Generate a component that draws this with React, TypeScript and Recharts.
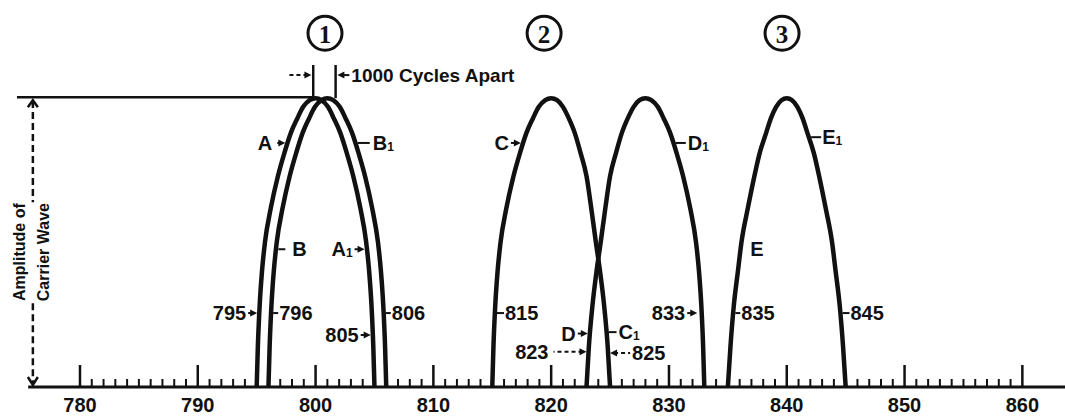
import React from "react";
import {
  LineChart,
  Line,
  XAxis,
  YAxis,
  ReferenceLine,
  ReferenceDot,
} from "recharts";

// amplitude levels shared by every curve (read bottom -> peak -> bottom)
const ampLevels = [
  0, 0.14, 0.28, 0.4, 0.5, 0.62, 0.73, 0.81, 0.88, 0.93, 0.97, 0.993, 1,
  0.993, 0.97, 0.93, 0.88, 0.81, 0.73, 0.62, 0.5, 0.4, 0.28, 0.14, 0,
];

// frequency (kc) of each curve at those levels
const freqA = [
  795, 795.1, 795.25, 795.45, 795.7, 796.2, 796.8, 797.35, 797.9, 798.45,
  798.95, 799.5, 800, 800.5, 801.05, 801.55, 802.1, 802.65, 803.2, 803.8,
  804.3, 804.55, 804.75, 804.9, 805,
];
const freqB = [
  796, 796.1, 796.25, 796.45, 796.7, 797.2, 797.8, 798.35, 798.9, 799.45,
  799.95, 800.5, 801, 801.5, 802.05, 802.55, 803.1, 803.65, 804.2, 804.8,
  805.3, 805.55, 805.75, 805.9, 806,
];
const freqC = [
  815, 815.1, 815.25, 815.45, 815.7, 816.2, 816.8, 817.35, 817.9, 818.45,
  818.95, 819.5, 820, 820.5, 821, 821.5, 822, 822.5, 823, 823.4, 823.8,
  824.15, 824.5, 824.8, 825,
];
const freqD = [
  823, 823.2, 823.5, 823.85, 824.2, 824.6, 825, 825.5, 826, 826.5, 827,
  827.5, 828, 828.5, 829.05, 829.55, 830.1, 830.65, 831.2, 831.8, 832.3,
  832.55, 832.75, 832.9, 833,
];
const freqE = [
  835, 835.22, 835.5, 835.85, 836.15, 836.7, 837.25, 837.7, 838.25, 838.65,
  839.1, 839.55, 840, 840.45, 840.9, 841.35, 841.75, 842.3, 842.75, 843.3,
  843.85, 844.15, 844.5, 844.78, 845,
];

const majorTicks = [780, 790, 800, 810, 820, 830, 840, 850, 860];
const minorStep = 1;

const circledNums = ["1", "2", "3"];
const circledFreqs = [800.8, 819.4, 839.6];

const ink = "#111";
const font = "'Liberation Sans', Arial, sans-serif";

const curves = [freqA, freqB, freqC, freqD, freqE].map((fs) =>
  fs.map((f, i) => ({ f, a: ampLevels[i] }))
);

const allTicks: number[] = [];
for (let v = majorTicks[0]; v <= majorTicks[majorTicks.length - 1]; v += minorStep)
  allTicks.push(v);

type Note = {
  f: number;
  a: number;
  text?: string;
  sub?: string;
  side: "l" | "r";
  len: number;
  gap: number;
  head?: boolean;
  dash?: boolean;
  size?: number;
};

// labels with their little arrows, anchored where the arrow touches a curve
const notes: Note[] = [
  { f: 797.43, a: 0.845, text: "A", side: "l", len: 11, gap: 2, head: true, dash: true },
  { f: 803.58, a: 0.845, text: "B", sub: "1", side: "r", len: 12, gap: 3 },
  { f: 796.84, a: 0.477, text: "B", side: "r", len: 7, gap: 7 },
  { f: 804.16, a: 0.477, text: "A", sub: "1", side: "l", len: 10, gap: 2, head: true },
  { f: 795.04, a: 0.256, text: "795", side: "l", len: 9, gap: 2, head: true },
  { f: 796.4, a: 0.256, text: "796", side: "r", len: 5, gap: 1 },
  { f: 805.96, a: 0.256, text: "806", side: "r", len: 5, gap: 1 },
  { f: 804.68, a: 0.18, text: "805", side: "l", len: 10, gap: 2, head: true },
  { f: 817.43, a: 0.845, text: "C", side: "l", len: 10, gap: 2, head: true },
  { f: 830.58, a: 0.845, text: "D", sub: "1", side: "r", len: 10, gap: 2 },
  { f: 815.4, a: 0.256, text: "815", side: "r", len: 7, gap: 1 },
  { f: 823.11, a: 0.185, text: "D", side: "l", len: 10, gap: 2, head: true },
  { f: 824.87, a: 0.19, text: "C", sub: "1", side: "r", len: 8, gap: 2 },
  { f: 823.0, a: 0.122, text: "823", side: "l", len: 33, gap: 5, head: true, dash: true },
  { f: 825.0, a: 0.118, text: "825", side: "r", len: 20, gap: 2, head: true, dash: true },
  { f: 832.4, a: 0.256, text: "833", side: "l", len: 10, gap: 2, head: true },
  { f: 835.63, a: 0.256, text: "835", side: "r", len: 5, gap: 1 },
  { f: 844.73, a: 0.256, text: "845", side: "r", len: 7, gap: 1 },
  { f: 842.07, a: 0.865, text: "E", sub: "1", side: "r", len: 10, gap: 1 },
  { f: 836.9, a: 0.477, text: "E", side: "r", len: 0, gap: 0 },
  // "1000 Cycles Apart" bracket arrows
  { f: 799.65, a: 1.08, side: "l", len: 24, gap: 0, head: true, dash: true },
  { f: 801.85, a: 1.08, text: "1000 Cycles Apart", side: "r", len: 12, gap: 2, head: true, size: 19 },
];

function NoteMark({ cx, cy, n }: { cx: number; cy: number; n: Note }) {
  const dir = n.side === "l" ? -1 : 1;
  const x1 = cx + dir * n.len;
  const tx = x1 + dir * n.gap;
  return (
    <g>
      {n.len > 0 && (
        <line
          x1={n.head ? cx + dir * 4 : cx}
          y1={cy}
          x2={x1}
          y2={cy}
          stroke={ink}
          strokeWidth={2}
          strokeDasharray={n.dash ? "4 3" : undefined}
        />
      )}
      {n.head && (
        <path
          d={`M${cx},${cy} L${cx + dir * 7},${cy - 3.5} L${cx + dir * 7},${cy + 3.5} Z`}
          fill={ink}
        />
      )}
      {n.text && (
        <text
          x={tx}
          y={cy}
          textAnchor={dir < 0 ? "end" : "start"}
          dominantBaseline="central"
          fontFamily={font}
          fontWeight="bold"
          fontSize={n.size ?? 20}
          fill={ink}
        >
          {n.text}
          {n.sub && (
            <tspan fontSize={12} dy={4}>
              {n.sub}
            </tspan>
          )}
        </text>
      )}
    </g>
  );
}

function AxisTick(props: any) {
  const { x, y, payload } = props;
  const v = payload.value as number;
  const major = majorTicks.includes(v);
  return (
    <g>
      <line
        x1={x}
        x2={x}
        y1={y}
        y2={y - (major ? 22 : 8)}
        stroke={ink}
        strokeWidth={major ? 2.5 : 2}
      />
      {major && (
        <text
          x={x}
          y={y + 25}
          textAnchor="middle"
          fontFamily={font}
          fontWeight="bold"
          fontSize={20}
          fill={ink}
        >
          {v}
        </text>
      )}
    </g>
  );
}

export default function App() {
  return (
    <div style={{ position: "absolute", left: 0, top: 0, background: "#fff" }}>
      <LineChart
        width={1065}
        height={417}
        margin={{ top: 0, right: 0, bottom: 0, left: 0 }}
      >
        <XAxis
          type="number"
          dataKey="f"
          domain={[773.21, 863.62]}
          allowDataOverflow
          ticks={allTicks}
          interval={0}
          tick={<AxisTick />}
          tickLine={false}
          axisLine={false}
          tickSize={0}
          tickMargin={0}
          height={30}
        />
        <YAxis type="number" dataKey="a" domain={[0, 1.34]} hide allowDataOverflow />

        {/* base line and amplitude reference */}
        <ReferenceLine
          segment={[{ x: 775.6, y: 0 }, { x: 863.62, y: 0 }]}
          stroke={ink}
          strokeWidth={3}
        />
        <ReferenceLine
          segment={[{ x: 774.65, y: 1.003 }, { x: 799.7, y: 1.003 }]}
          stroke={ink}
          strokeWidth={2.5}
        />
        <ReferenceLine
          segment={[{ x: 776.0, y: 0.99 }, { x: 776.0, y: 0.64 }]}
          stroke={ink}
          strokeWidth={2.5}
          strokeDasharray="7 4"
        />
        <ReferenceLine
          segment={[{ x: 776.0, y: 0.29 }, { x: 776.0, y: 0.01 }]}
          stroke={ink}
          strokeWidth={2.5}
          strokeDasharray="7 4"
        />
        <ReferenceDot
          x={776.0}
          y={1.0}
          r={0}
          ifOverflow="visible"
          shape={(p: any) => (
            <polyline
              points={`${p.cx - 5},${p.cy + 9} ${p.cx},${p.cy + 2} ${p.cx + 5},${p.cy + 9}`}
              fill="none"
              stroke={ink}
              strokeWidth={2.5}
            />
          )}
        />
        <ReferenceDot
          x={776.0}
          y={0}
          r={0}
          ifOverflow="visible"
          shape={(p: any) => (
            <polyline
              points={`${p.cx - 5},${p.cy - 10} ${p.cx},${p.cy - 2} ${p.cx + 5},${p.cy - 10}`}
              fill="none"
              stroke={ink}
              strokeWidth={2.5}
            />
          )}
        />
        <ReferenceDot
          x={776.0}
          y={0.467}
          r={0}
          ifOverflow="visible"
          shape={(p: any) => (
            <g fontFamily={font} fontWeight="bold" fontSize={16} fill={ink}>
              <text
                x={p.cx - 13}
                y={p.cy}
                textAnchor="middle"
                dominantBaseline="central"
                transform={`rotate(-90 ${p.cx - 13} ${p.cy})`}
              >
                Amplitude of
              </text>
              <text
                x={p.cx + 11}
                y={p.cy}
                textAnchor="middle"
                dominantBaseline="central"
                transform={`rotate(-90 ${p.cx + 11} ${p.cy})`}
              >
                Carrier Wave
              </text>
            </g>
          )}
        />

        {/* 1000 cycles bracket */}
        <ReferenceLine
          segment={[{ x: 799.8, y: 1.0 }, { x: 799.8, y: 1.115 }]}
          stroke={ink}
          strokeWidth={2.5}
        />
        <ReferenceLine
          segment={[{ x: 801.7, y: 1.0 }, { x: 801.7, y: 1.115 }]}
          stroke={ink}
          strokeWidth={2.5}
        />

        {curves.map((rows, i) => (
          <Line
            key={i}
            data={rows}
            dataKey="a"
            type="monotone"
            stroke={ink}
            strokeWidth={4.5}
            dot={false}
            activeDot={false}
            isAnimationActive={false}
          />
        ))}

        {circledNums.map((n, i) => (
          <ReferenceDot
            key={"c" + n}
            x={circledFreqs[i]}
            y={1.225}
            r={0}
            ifOverflow="visible"
            shape={(p: any) => (
              <g>
                <circle cx={p.cx} cy={p.cy} r={17} fill="#fff" stroke={ink} strokeWidth={3} />
                <text
                  x={p.cx}
                  y={p.cy + 1}
                  textAnchor="middle"
                  dominantBaseline="central"
                  fontFamily="'Liberation Serif', serif"
                  fontWeight="bold"
                  fontSize={25}
                  fill={ink}
                >
                  {n}
                </text>
              </g>
            )}
          />
        ))}

        {notes.map((n, i) => (
          <ReferenceDot
            key={"n" + i}
            x={n.f}
            y={n.a}
            r={0}
            ifOverflow="visible"
            shape={(p: any) => <NoteMark cx={p.cx} cy={p.cy} n={n} />}
          />
        ))}
      </LineChart>
    </div>
  );
}
